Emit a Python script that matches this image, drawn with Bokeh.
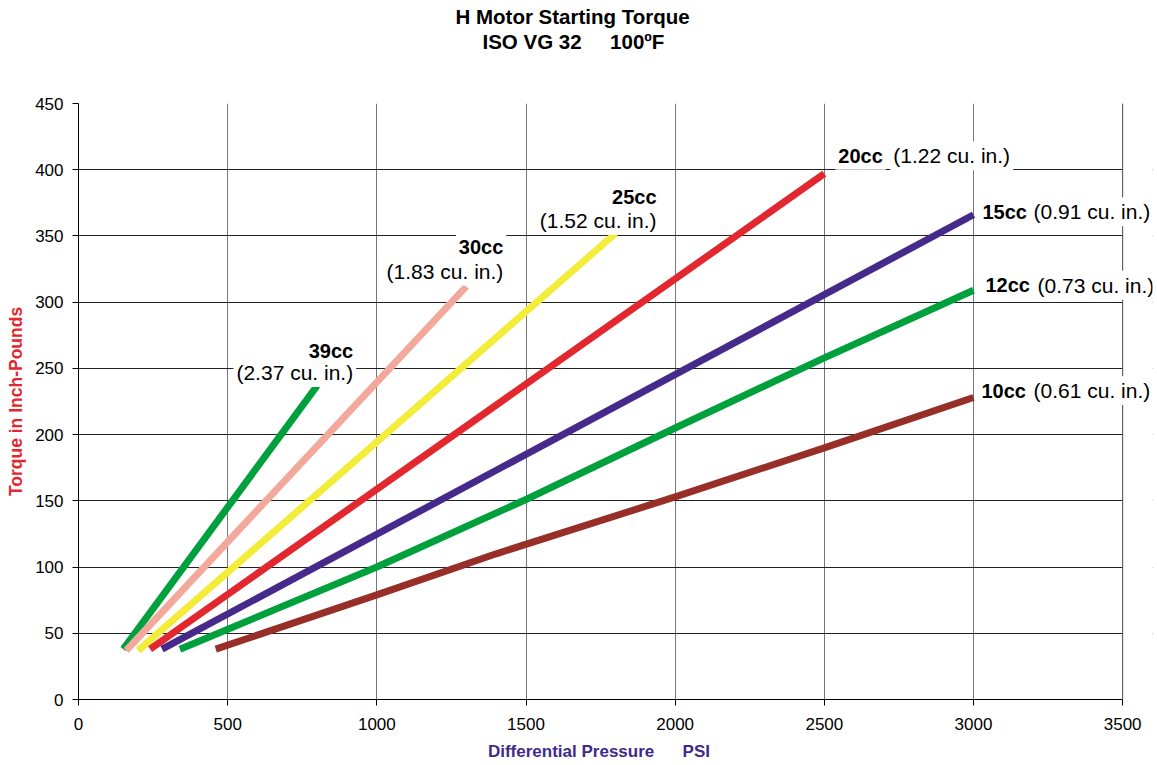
from bokeh.plotting import figure
from bokeh.models import Label, Title, FixedTicker, Range1d, BoxAnnotation, Span
from bokeh.embed import file_html
from bokeh.resources import INLINE

# ---- data ----
x_ticks = [0, 500, 1000, 1500, 2000, 2500, 3000, 3500]
y_ticks = [0, 50, 100, 150, 200, 250, 300, 350, 400, 450]

psi_39 = [150, 800]
tq_39 = [38, 237]
psi_30 = [160, 1300]
tq_30 = [37, 312]
psi_25 = [200, 1800]
tq_25 = [37, 352]
psi_20 = [240, 2500]
tq_20 = [38, 397]
psi_15 = [280, 3000]
tq_15 = [38, 366]
psi_12 = [340, 1000, 1500, 2000, 2500, 3000]
tq_12 = [38, 100, 151, 205, 258, 309]
psi_10 = [460, 1000, 1400, 2000, 2500, 3000]
tq_10 = [38, 79, 110, 153, 190, 228]

names = ["39cc", "30cc", "25cc", "20cc", "15cc", "12cc", "10cc"]
volumes = ["(2.37 cu. in.)", "(1.83 cu. in.)", "(1.52 cu. in.)", "(1.22 cu. in.)",
           "(0.91 cu. in.)", "(0.73 cu. in.)", "(0.61 cu. in.)"]

series = [(psi_39, tq_39), (psi_30, tq_30), (psi_25, tq_25), (psi_20, tq_20),
          (psi_15, tq_15), (psi_12, tq_12), (psi_10, tq_10)]
colors = ["#00A03C", "#F2A99B", "#F4EC3A", "#E2272F", "#452A8C", "#00A03C", "#982E28"]

FONT = "Liberation Sans"
X_END = 3600  # extra room right of 3500 so the end labels are not clipped
NB = "\u00a0"

p = figure(width=1156, height=764, x_range=Range1d(0, X_END), y_range=Range1d(0, 450),
           output_backend="svg", toolbar_location=None, title=None,
           min_border_left=78, min_border_right=4, min_border_top=103, min_border_bottom=65)
p.background_fill_color = "white"
p.border_fill_color = "white"
p.outline_line_color = None

# titles (added closest-first); an empty spacer keeps them at the top of the page
title_style = dict(align="left", text_font=FONT, text_font_size="20.5px",
                   text_font_style="bold", text_color="black")
p.add_layout(Title(text=NB, standoff=26, **title_style), "above")
p.add_layout(Title(text="ISO VG 32" + NB * 5 + "100\u00baF", standoff=0, offset=404,
                   **title_style), "above")
p.add_layout(Title(text="H Motor Starting Torque", standoff=0, offset=377,
                   **title_style), "above")

# axes
p.xaxis.ticker = FixedTicker(ticks=x_ticks)
p.yaxis.ticker = FixedTicker(ticks=y_ticks)
p.xaxis.bounds = (x_ticks[0], x_ticks[-1])
for ax in (p.xaxis[0], p.yaxis[0]):
    ax.axis_line_color = "black"
    ax.major_tick_line_color = "black"
    ax.major_tick_in = 0
    ax.major_tick_out = 6
    ax.minor_tick_line_color = None
    ax.major_label_text_font = FONT
    ax.major_label_text_font_size = "17px"
    ax.major_label_text_color = "black"
    ax.axis_label_text_font = FONT
    ax.axis_label_text_font_style = "bold"
    ax.axis_label_text_font_size = "17px"
p.xaxis.major_label_standoff = 12
p.yaxis.major_label_standoff = 9
# trailing spaces re-centre the label on the 0-3500 part of the axis
p.xaxis.axis_label = "Differential Pressure" + NB * 6 + "PSI" + NB * 7
p.xaxis.axis_label_text_color = "#3F2A8C"
p.xaxis.axis_label_standoff = 9
p.yaxis.axis_label = "Torque in Inch-Pounds"
p.yaxis.axis_label_text_color = "#E2272F"
p.yaxis.axis_label_text_font_size = "17.5px"
p.yaxis.axis_label_standoff = 6

p.xgrid.grid_line_color = "#777777"
p.ygrid.grid_line_color = "#222222"
p.xgrid.grid_line_width = 1
p.ygrid.grid_line_width = 1

for (xs, ys), c in zip(series, colors):
    p.line(xs, ys, line_width=7, line_color=c, line_cap="butt", line_join="round")

# blank out the grid beyond the last tick, then redraw the right border line
p.add_layout(BoxAnnotation(left=x_ticks[-1], right=X_END, bottom=y_ticks[0], top=y_ticks[-1],
                           fill_color="white", fill_alpha=1.0, line_color=None))
p.add_layout(Span(location=x_ticks[-1], dimension="height", line_color="#555555", line_width=1))

# labels
def lab(x, y, text, dx, dy, bold, align):
    p.add_layout(Label(x=x, y=y, x_offset=dx, y_offset=dy, text=text,
                       text_font=FONT, text_font_size="20px" if bold else "21px",
                       text_font_style="bold" if bold else "normal",
                       text_color="black", text_align=align, text_baseline="middle",
                       background_fill_color="white", padding=3))

# two-line labels, right-aligned above the line ends
two_line = {0: (39, 35, 13), 1: (40, 39, 15), 2: (44, 36, 13)}
for i, (dx, dy_b, dy_n) in two_line.items():
    xs, ys = series[i]
    lab(xs[-1], ys[-1], volumes[i], dx, dy_n, False, "right")
    lab(xs[-1], ys[-1], names[i], dx, dy_b, True, "right")

# single-line labels to the right of the line ends: (bold dx, dy, gap to normal part)
one_line = {3: (11, 18, 55), 4: (6, 3, 51), 5: (9, 5, 52), 6: (5, 7, 52)}
for i, (dx, dy, gap) in one_line.items():
    xs, ys = series[i]
    lab(xs[-1], ys[-1], volumes[i], dx + gap, dy, False, "left")
    lab(xs[-1], ys[-1], names[i], dx, dy, True, "left")

open("out.html", "w").write(file_html(p, INLINE))
